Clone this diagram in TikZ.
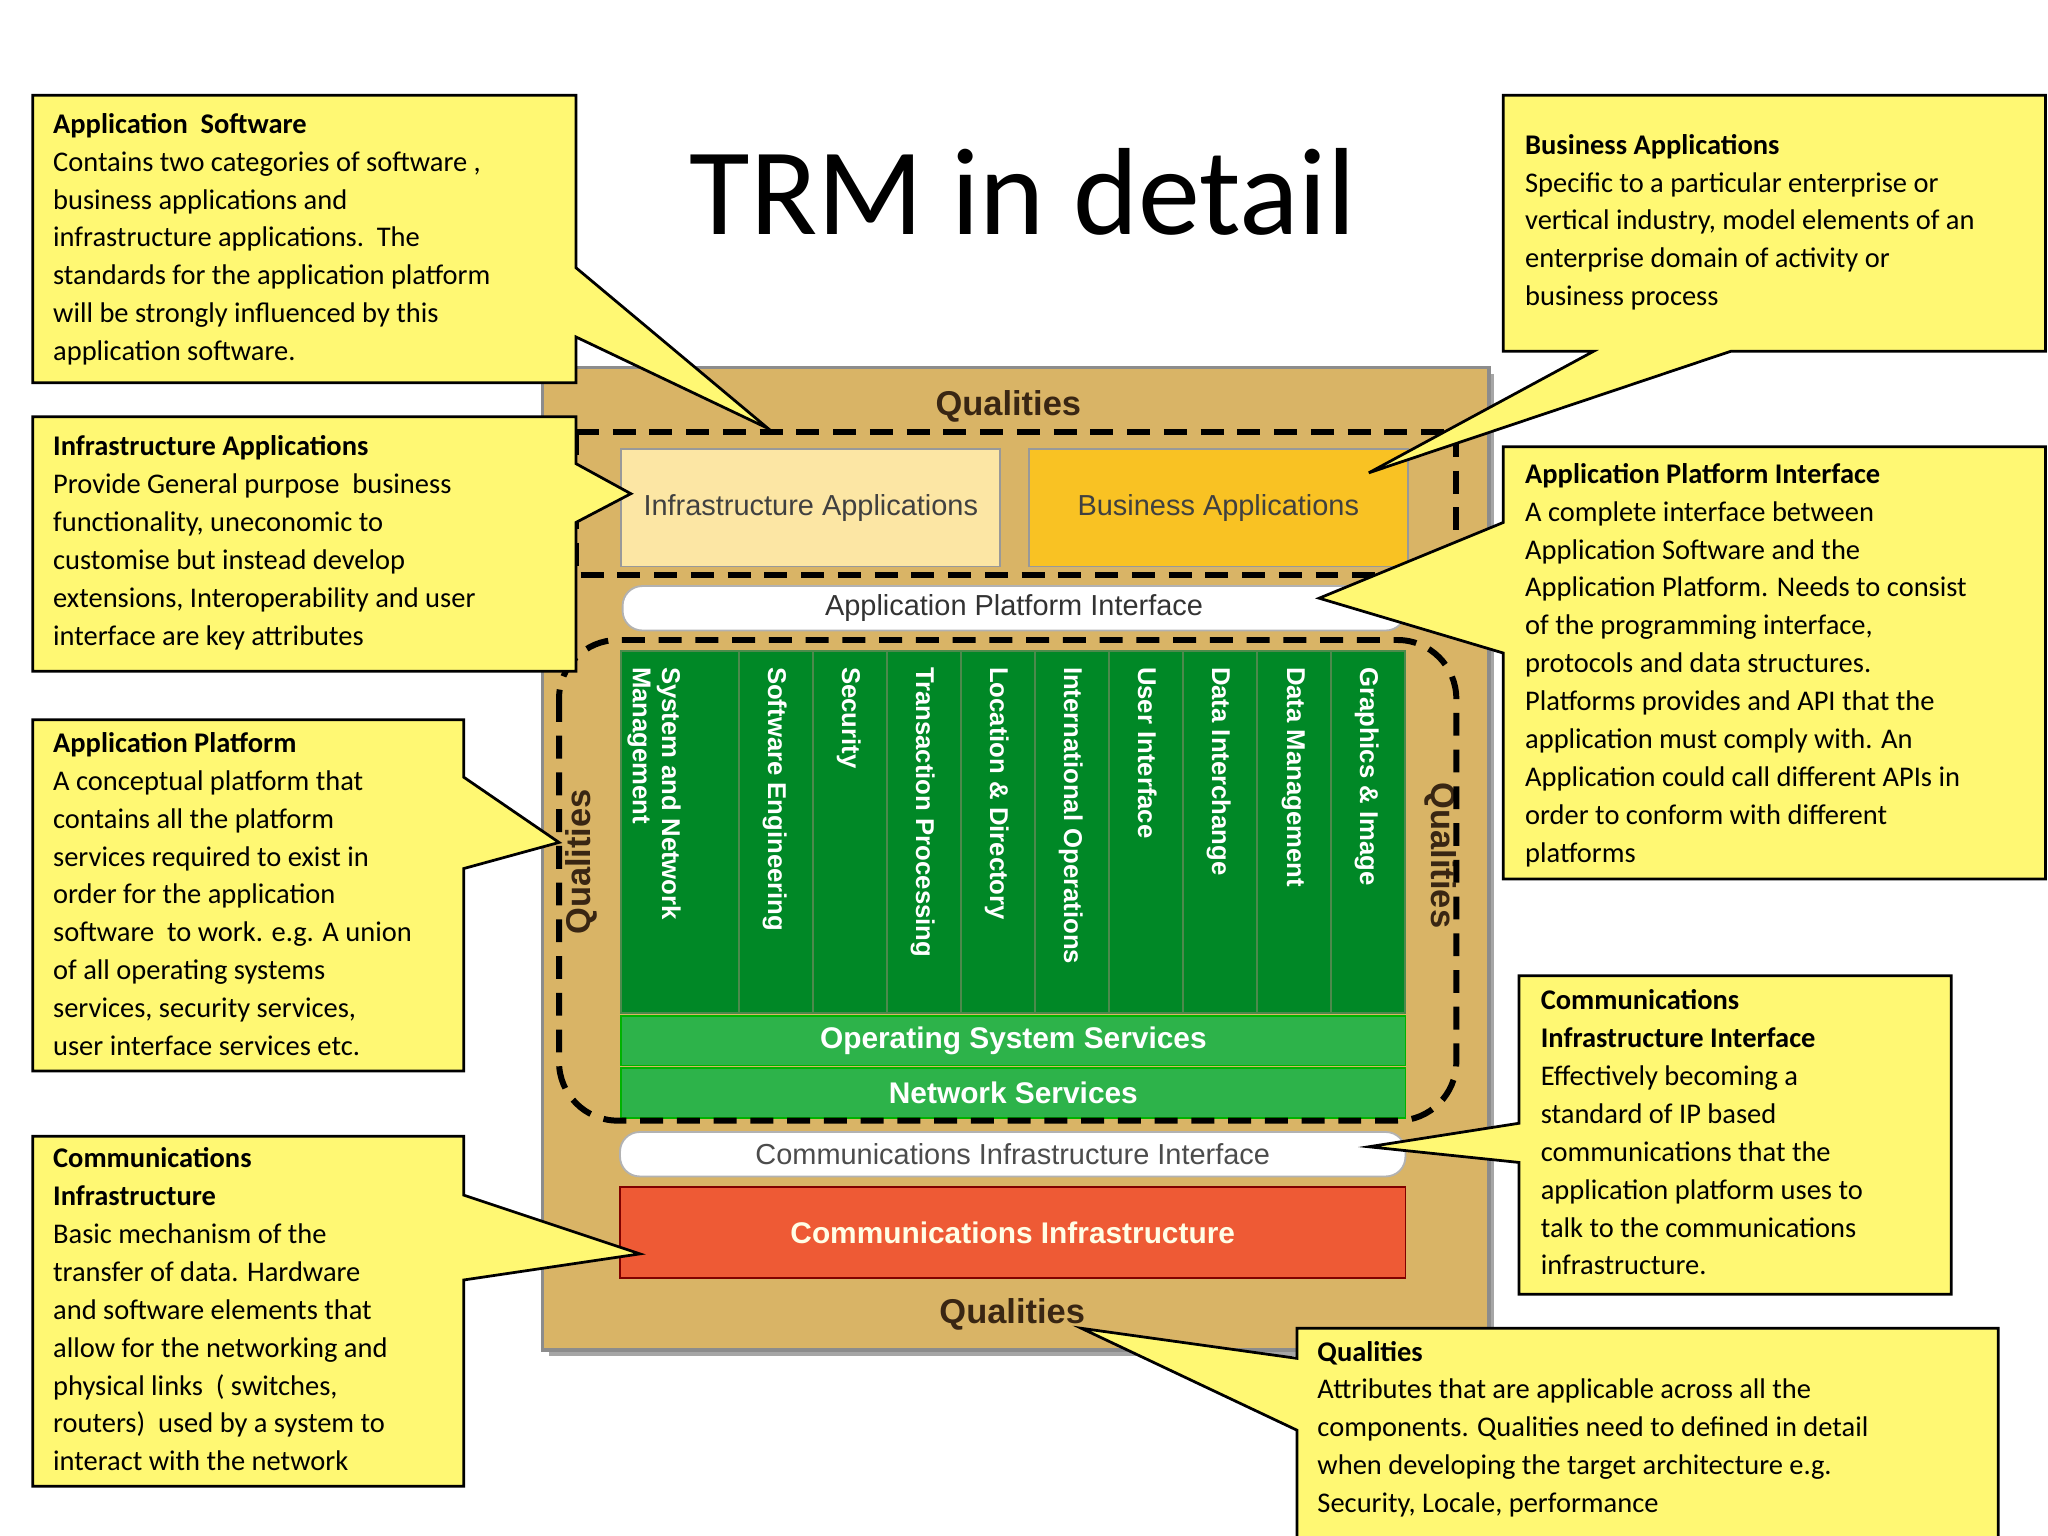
\documentclass[tikz,border=0pt]{standalone}
\usepackage{fontspec}
\setmainfont{Carlito}
\newfontfamily\arl{Liberation Sans}
\begin{document}
\begin{tikzpicture}[x=0.01cm,y=-0.01cm,
  call/.style={draw=black,line width=0.6pt,fill=yellow!55!white},
  ctext/.style={anchor=north west,align=left,font=\fontsize{6.2}{8.25}\selectfont,inner sep=0pt},
  qual/.style={font=\arl\bfseries\fontsize{7.5}{9}\selectfont,text=black!70!brown},
  col/.style={draw=black!40!green!40!gray,line width=0.4pt,fill=green!45!black!85!cyan},
  coltext/.style={rotate=-90,anchor=north west,align=left,text=white,font=\arl\bfseries\fontsize{5.6}{6.4}\selectfont,inner sep=0pt},
  dsh/.style={dashed,line width=1.3pt,dash pattern=on 5pt off 3pt}]
\useasboundingbox (0,0) rectangle (1568,1176);
% background box
\fill[black!35] (420,286) rectangle (1144,1038);
\node[draw=black!45,line width=0.8pt,fill={rgb,255:red,217;green,180;blue,102},minimum width=7.24cm,minimum height=7.52cm,anchor=north west,inner sep=0pt] (bg) at (414,280) {};
\node[qual] (qt) at (772,311) {Qualities};
\node[qual] (qb) at (775,1006) {Qualities};
\node[qual,rotate=90] (ql) at (445,660) {Qualities};
\node[qual,rotate=-90] (qr) at (1103,655) {Qualities};
% top dashed
\draw[dsh] (441,331) -- (1115,331) -- (1115,420);
\draw[dsh] (441,331) -- (441,440) -- (1115,440);
\node[draw=black!40,fill={rgb,255:red,252;green,230;blue,164},minimum width=2.9cm,minimum height=0.9cm,anchor=north west,inner sep=0pt,font=\arl\fontsize{6.3}{7}\selectfont,text=black!75] (ia) at (475,343) {Infrastructure Applications};
\node[draw=black!40,fill={rgb,255:red,249;green,194;blue,35},minimum width=2.9cm,minimum height=0.9cm,anchor=north west,inner sep=0pt,font=\arl\fontsize{6.3}{7}\selectfont,text=black!75] (ba) at (787,343) {Business Applications};
\node[draw=black!30,fill=white,rounded corners=0.15cm,minimum width=5.99cm,minimum height=0.34cm,anchor=north west,inner sep=0pt,font=\arl\fontsize{6.3}{7}\selectfont,text=black!80] (api) at (476,448) {Application Platform Interface};
% columns
\node[col,minimum width=0.9cm,minimum height=2.77cm,anchor=north west,inner sep=0pt] (c0) at (475,498) {};
\foreach \i in {0,...,8}{
  \node[col,minimum width=0.5667cm,minimum height=2.77cm,anchor=north west,inner sep=0pt] (c\i x) at ({565+\i*56.67},498) {};
}
\node[coltext] at (522,510) {System and Network\\Management};
\foreach \t [count=\i from 0] in {Software Engineering,Security,Transaction Processing,Location \& Directory,International Operations,User Interface,Data Interchange,Data Management,Graphics \& Image}{
  \node[coltext] at ({603+\i*56.67},510) {\t};
}
\node[draw=black!30!green,fill={rgb,255:red,45;green,179;blue,74},minimum width=6cm,minimum height=0.38cm,anchor=north west,inner sep=0pt,text=white,font=\arl\bfseries\fontsize{6.5}{7}\selectfont] (os) at (475,777) {Operating System Services};
\node[draw=black!30!green,fill={rgb,255:red,45;green,179;blue,74},minimum width=6cm,minimum height=0.38cm,anchor=north west,inner sep=0pt,text=white,font=\arl\bfseries\fontsize{6.5}{7}\selectfont] (ns) at (475,817) {Network Services};
\draw[dsh,rounded corners=0.45cm] (428,490) rectangle (1115,858);
\node[draw=black!30,fill=white,rounded corners=0.15cm,minimum width=6.01cm,minimum height=0.34cm,anchor=north west,inner sep=0pt,font=\arl\fontsize{6.3}{7}\selectfont,text=black!70] (cii) at (474,866) {Communications Infrastructure Interface};
\node[draw=black!50!red,fill={rgb,255:red,238;green,90;blue,53},minimum width=6.01cm,minimum height=0.7cm,anchor=north west,inner sep=0pt,text=white!90!yellow,font=\arl\bfseries\fontsize{6.5}{7}\selectfont] (ci) at (474,908) {Communications Infrastructure};
% title
\node[font=\fontsize{27}{30}\selectfont] (title) at (783,147) {TRM in detail};
% callouts
\draw[call] (25,73) -- (441,73) -- (441,205) -- (588,328) -- (441,258) -- (441,293) -- (25,293) -- cycle;
\node[ctext] (t1) at (40,86) {\textbf{Application\ \ Software}\\Contains two categories of software ,\\business applications and\\infrastructure applications.\ \ The\\standards for the application platform\\will be strongly influenced by this\\application software.};
\draw[call] (25,319) -- (441,319) -- (441,355) -- (483,378) -- (441,400) -- (441,514) -- (25,514) -- cycle;
\node[ctext] (t2) at (40,333) {\textbf{Infrastructure Applications}\\Provide General purpose\ \ business\\functionality, uneconomic to\\customise but instead develop\\extensions, Interoperability and user\\interface are key attributes};
\draw[call] (25,551) -- (355,551) -- (355,595) -- (428,645) -- (355,665) -- (355,820) -- (25,820) -- cycle;
\node[ctext] (t3) at (40,560) {\textbf{Application Platform}\\A conceptual platform that\\contains all the platform\\services required to exist in\\order for the application\\software\ \ to work. e.g. A union\\of all operating systems\\services, security services,\\user interface services etc.};
\draw[call] (25,870) -- (355,870) -- (355,915) -- (490,960) -- (355,980) -- (355,1138) -- (25,1138) -- cycle;
\node[ctext] (t4) at (40,878) {\textbf{Communications}\\\textbf{Infrastructure}\\Basic mechanism of the\\transfer of data. Hardware\\and software elements that\\allow for the networking and\\physical links\ \ ( switches,\\routers)\ \ used by a system to\\interact with the network};
\draw[call] (1151,73) -- (1566,73) -- (1566,269) -- (1325,269) -- (1048,362) -- (1220,269) -- (1151,269) -- cycle;
\node[ctext] (t5) at (1167,102) {\textbf{Business Applications}\\Specific to a particular enterprise or\\vertical industry, model elements of an\\enterprise domain of activity or\\business process};
\draw[call] (1151,342) -- (1566,342) -- (1566,673) -- (1151,673) -- (1151,500) -- (1010,458) -- (1151,400) -- cycle;
\node[ctext] (t6) at (1167,354) {\textbf{Application Platform Interface}\\A complete interface between\\Application Software and the\\Application Platform. Needs to consist\\of the programming interface,\\protocols and data structures.\\Platforms provides and API that the\\application must comply with. An\\Application could call different APIs in\\order to conform with different\\platforms};
\draw[call] (1163,747) -- (1494,747) -- (1494,991) -- (1163,991) -- (1163,890) -- (1048,878) -- (1163,860) -- cycle;
\node[ctext] (t7) at (1179,757) {\textbf{Communications}\\\textbf{Infrastructure Interface}\\Effectively becoming a\\standard of IP based\\communications that the\\application platform uses to\\talk to the communications\\infrastructure.};
\draw[call] (993,1176) -- (993,1095) -- (828,1017) -- (993,1040) -- (993,1017) -- (1530,1017) -- (1530,1176);
\node[ctext] (t8) at (1008,1026) {\textbf{Qualities}\\Attributes that are applicable across all the\\components. Qualities need to defined in detail\\when developing the target architecture e.g.\\Security, Locale, performance};
\end{tikzpicture}
\end{document}
